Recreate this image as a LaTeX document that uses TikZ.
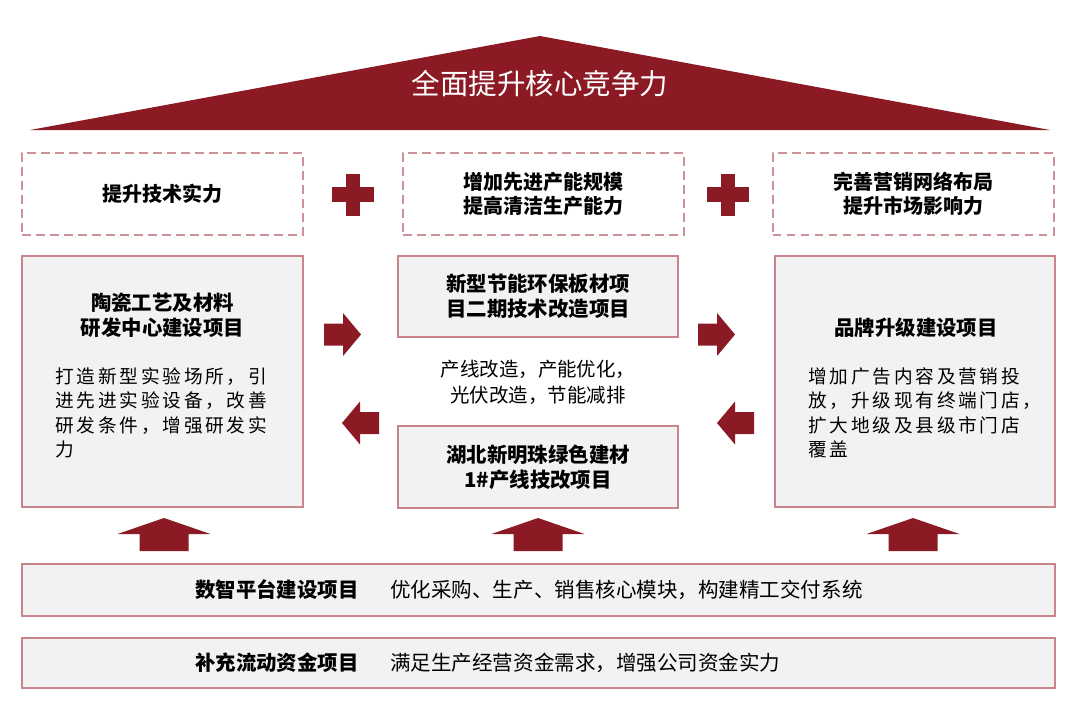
\documentclass[tikz,border=0pt]{standalone}
\usepackage{fontspec}
\setmainfont{Noto Sans CJK SC}
\newfontfamily\spacedcjk{Noto Sans CJK SC}[LetterSpace=15]
\definecolor{pillarred}{HTML}{8C1A24}
\definecolor{framerose}{HTML}{C8868C}
\definecolor{dashrose}{HTML}{CC9298}
\definecolor{panelfill}{HTML}{F2F2F2}
\newcommand{\px}{0.75pt}
\begin{document}
\begin{tikzpicture}[x=0.75pt,y=-0.75pt,
  panel/.style={draw=framerose,line width=1.5pt,fill=panelfill,inner sep=0pt},
  goalbox/.style={draw=dashrose,line width=1.5pt,dash pattern=on 6.5pt off 4pt,inner sep=0pt,
    minimum width=281*\px,minimum height=82*\px,align=center,font=\bfseries\fontsize{15}{18}\selectfont},
  headline/.style={font=\bfseries\fontsize{15.3}{18.75}\selectfont,align=center,inner sep=0pt},
  bodytext/.style={font=\spacedcjk\fontsize{14}{18.4}\selectfont,align=left,inner sep=0pt},
  midnote/.style={font=\fontsize{14.6}{19.5}\selectfont,align=center,inner sep=0pt},
  bartitle/.style={font=\bfseries\fontsize{15.3}{18}\selectfont,inner sep=0pt,anchor=west},
  barbody/.style={font=\fontsize{15.4}{18}\selectfont,inner sep=0pt,anchor=west}]
\useasboundingbox (0,0) rectangle (1080,708);
\fill[pillarred] (30,130) -- (540,36) -- (1050,130) -- cycle;
\node[text=white,font=\fontsize{21.4}{24}\selectfont,inner sep=0pt] (roof) at (540,84) {全面提升核心竞争力};
\node[goalbox] (techgoal) at (162.5,194) {提升技术实力};
\node[goalbox] (capgoal) at (543.5,194) {增加先进产能规模\\提高清洁生产能力};
\node[goalbox] (marketgoal) at (913,194) {完善营销网络布局\\提升市场影响力};
\foreach \cx in {353,728} {
  \fill[pillarred] (\cx-7.3,173.5) rectangle ++(14.6,42);
  \fill[pillarred] (\cx-21,187.2) rectangle ++(42,14.6);
}
\node[panel,minimum width=281*\px,minimum height=251*\px] (lab) at (162.5,381.5) {};
\node[headline] (labT) at (162.5,315.5) {陶瓷工艺及材料\\研发中心建设项目};
\node[bodytext,anchor=north west] (labD) at (55,367) {打造新型实验场所，引\\进先进实验设备，改善\\研发条件，增强研发实\\力};
\node[panel,minimum width=280*\px,minimum height=81*\px,headline] (board) at (538,296.5) {新型节能环保板材项\\目二期技术改造项目};
\node[midnote] (upgrade) at (538,382) {产线改造，产能优化，\\光伏改造，节能减排};
\node[panel,minimum width=280*\px,minimum height=82*\px,headline] (hubei) at (538,467) {湖北新明珠绿色建材\\1\#产线技改项目};
\node[panel,minimum width=280*\px,minimum height=251*\px] (brand) at (915,381.5) {};
\node[headline] (brandT) at (916,328) {品牌升级建设项目};
\node[bodytext,anchor=north west] (brandD) at (808,367) {增加广告内容及营销投\\放，升级现有终端门店，\\扩大地级及县级市门店\\覆盖};
\foreach \sx/\sy/\dir in {324/334.5/1,698/334.5/1,379/423/-1,754/423/-1}
  \fill[pillarred] (\sx,\sy-11) -- ++(19*\dir,0) -- ++(0,-10.5) -- ++(18*\dir,21.5)
    -- ++(-18*\dir,21.5) -- ++(0,-10.5) -- ++(-19*\dir,0) -- cycle;
\foreach \ux in {164,538,913}
  \fill[pillarred] (\ux-24.5,551) -- ++(0,-17) -- ++(-22,0) -- ++(46.5,-16)
    -- ++(46.5,16) -- ++(-22,0) -- ++(0,17) -- cycle;
\node[panel,minimum width=1033*\px,minimum height=52*\px] (digital) at (538.5,590) {};
\node[bartitle] (digitalT) at (195,590) {数智平台建设项目};
\node[barbody] (digitalD) at (390,590) {优化采购、生产、销售核心模块，构建精工交付系统};
\node[panel,minimum width=1033*\px,minimum height=50*\px] (capital) at (538.5,663) {};
\node[bartitle] (capitalT) at (195,663) {补充流动资金项目};
\node[barbody] (capitalD) at (390,663) {满足生产经营资金需求，增强公司资金实力};
\end{tikzpicture}
\end{document}
